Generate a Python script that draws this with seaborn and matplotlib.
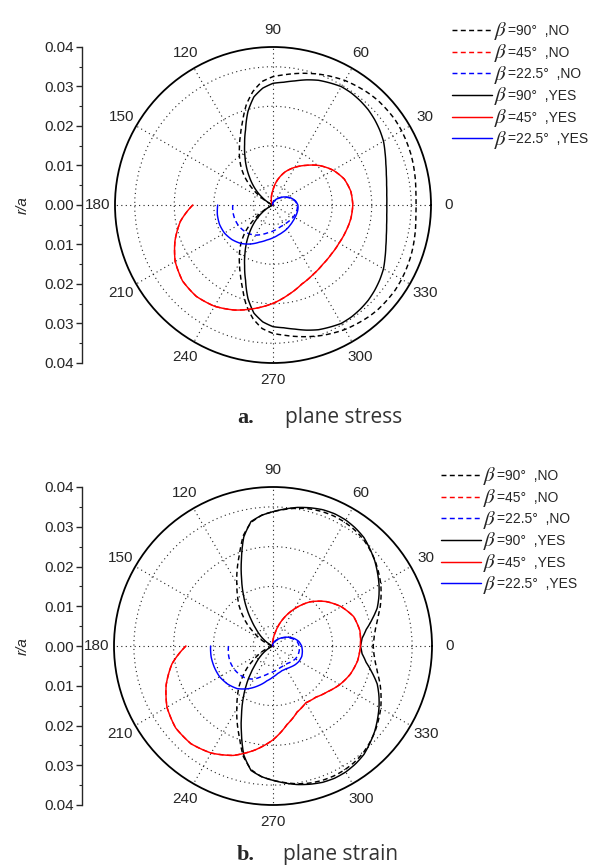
import numpy as np
import matplotlib
matplotlib.use("Agg")
import matplotlib.pyplot as plt
from matplotlib.lines import Line2D
from matplotlib.ticker import FixedLocator, MultipleLocator
import seaborn as sns

sns.set_style("ticks")
plt.rcParams["font.family"] = ["Liberation Sans", "DejaVu Sans"]
plt.rcParams["mathtext.fontset"] = "stix"

# ---------------- data (angles in degrees, r = r/a) ----------------
BLACK_THETA = [-180, -170, -160, -155, -150, -145, -140, -135, -130, -125, -120, -115,
               -110, -105, -100, -95, -90, -85, -80, -75, -70, -65, -60, -55, -50, -45,
               -40, -35, -30, -25, -20, -15, -10, -5,
               0, 5, 10, 15, 20, 25, 30, 35, 40, 45, 50, 55, 60, 65, 70, 75, 80, 85, 90,
               95, 100, 105, 110, 115, 120, 125, 130, 135, 140, 145, 150, 155, 160, 170, 180]
COLOR_THETA = [-180, -170, -160, -150, -140, -130, -120, -110, -100, -90, -80, -70,
               -60, -50, -40, -30, -20, -10, 0, 10, 20, 30, 40, 50, 60, 70, 80, 90,
               100, 110, 120, 140, 160, 180]

# (a) plane stress
A_B90_NO = [0.0, 0.0001, 0.0003, 0.0010, 0.0025, 0.0048, 0.0075, 0.0102, 0.0126, 0.0148,
            0.0170, 0.0195, 0.0225, 0.0262, 0.0292, 0.0314, 0.0325, 0.0331, 0.0338, 0.0345,
            0.0352, 0.0358, 0.0364, 0.0368, 0.0372, 0.0375, 0.0376, 0.0377, 0.0376, 0.0374,
            0.0372, 0.0369, 0.0366, 0.0363,
            0.0362,
            0.0363, 0.0366, 0.0369, 0.0372, 0.0374, 0.0376, 0.0377, 0.0376, 0.0375, 0.0372,
            0.0368, 0.0364, 0.0358, 0.0352, 0.0345, 0.0338, 0.0331, 0.0325, 0.0314, 0.0292,
            0.0262, 0.0225, 0.0195, 0.0170, 0.0148, 0.0126, 0.0102, 0.0075, 0.0048, 0.0025,
            0.0010, 0.0003, 0.0001, 0.0]
A_B90_YES = [0.0, 0.0001, 0.0003, 0.0008, 0.0018, 0.0033, 0.0052, 0.0072, 0.0093, 0.0117,
             0.0142, 0.0170, 0.0203, 0.0245, 0.0278, 0.0297, 0.0308, 0.0312, 0.0319, 0.0328,
             0.0336, 0.0341, 0.0346, 0.0346, 0.0344, 0.0341, 0.0336, 0.0330, 0.0323, 0.0313,
             0.0304, 0.0297, 0.0292, 0.0289,
             0.0288,
             0.0289, 0.0292, 0.0297, 0.0304, 0.0313, 0.0323, 0.0330, 0.0336, 0.0341, 0.0344,
             0.0346, 0.0346, 0.0341, 0.0336, 0.0328, 0.0319, 0.0312, 0.0308, 0.0297, 0.0278,
             0.0245, 0.0203, 0.0170, 0.0142, 0.0117, 0.0093, 0.0072, 0.0052, 0.0033, 0.0018,
             0.0008, 0.0003, 0.0001, 0.0]
A_B45_NO = [0.0203, 0.0238, 0.0264, 0.0286, 0.0299, 0.0302, 0.0296, 0.0283, 0.0266, 0.0249,
            0.0230, 0.0213, 0.0203, 0.0196, 0.0193, 0.0193, 0.0196, 0.0200, 0.0202, 0.0200,
            0.0192, 0.0176, 0.0155, 0.0131, 0.0110, 0.0089, 0.0064, 0.0038, 0.0022, 0.0012,
            0.0006, 0.0002, 0.0001, 0.0]
A_B45_YES = [0.0203, 0.0238, 0.0264, 0.0286, 0.0299, 0.0302, 0.0296, 0.0283, 0.0266, 0.0249,
             0.0230, 0.0213, 0.0203, 0.0196, 0.0193, 0.0193, 0.0196, 0.0200, 0.0202, 0.0200,
             0.0192, 0.0176, 0.0155, 0.0131, 0.0110, 0.0089, 0.0064, 0.0038, 0.0022, 0.0012,
             0.0006, 0.0002, 0.0001, 0.0]
A_B22_NO = [0.0102, 0.0103, 0.0103, 0.0102, 0.0099, 0.0095, 0.0088, 0.0079, 0.0071, 0.0066,
            0.0061, 0.0058, 0.0057, 0.0057, 0.0058, 0.0060, 0.0061, 0.0062, 0.0062, 0.0057,
            0.0049, 0.0039, 0.0030, 0.0022, 0.0016, 0.0011, 0.0008, 0.0005, 0.0004, 0.0003,
            0.0002, 0.0001, 0.0, 0.0]
A_B22_YES = [0.0140, 0.0143, 0.0144, 0.0142, 0.0136, 0.0127, 0.0114, 0.0100, 0.0090, 0.0083,
             0.0077, 0.0073, 0.0070, 0.0067, 0.0065, 0.0064, 0.0064, 0.0064, 0.0063, 0.0058,
             0.0050, 0.0040, 0.0031, 0.0023, 0.0017, 0.0012, 0.0009, 0.0006, 0.0004, 0.0003,
             0.0002, 0.0001, 0.0, 0.0]

# (b) plane strain
B_B90_NO = [0.0, 0.0002, 0.0012, 0.0024, 0.0040, 0.0058, 0.0084, 0.0107, 0.0133, 0.0156,
            0.0182, 0.0213, 0.0246, 0.0288, 0.0316, 0.0330, 0.0338, 0.0345, 0.0352, 0.0357,
            0.0360, 0.0361, 0.0360, 0.0357, 0.0352, 0.0344, 0.0335, 0.0324, 0.0313, 0.0300,
            0.0287, 0.0273, 0.0262, 0.0255,
            0.0252,
            0.0255, 0.0262, 0.0273, 0.0287, 0.0300, 0.0313, 0.0324, 0.0335, 0.0344, 0.0352,
            0.0357, 0.0360, 0.0361, 0.0360, 0.0357, 0.0352, 0.0345, 0.0338, 0.0330, 0.0316,
            0.0288, 0.0246, 0.0213, 0.0182, 0.0156, 0.0133, 0.0107, 0.0084, 0.0058, 0.0040,
            0.0024, 0.0012, 0.0002, 0.0]
B_B90_YES = [0.0, 0.0001, 0.0003, 0.0008, 0.0016, 0.0028, 0.0043, 0.0060, 0.0084, 0.0115,
             0.0149, 0.0187, 0.0232, 0.0284, 0.0318, 0.0330, 0.0338, 0.0346, 0.0354, 0.0360,
             0.0365, 0.0367, 0.0366, 0.0362, 0.0356, 0.0345, 0.0334, 0.0321, 0.0308, 0.0294,
             0.0279, 0.0258, 0.0238, 0.0225,
             0.0220,
             0.0225, 0.0238, 0.0258, 0.0279, 0.0294, 0.0308, 0.0321, 0.0334, 0.0345, 0.0356,
             0.0362, 0.0366, 0.0367, 0.0365, 0.0360, 0.0354, 0.0346, 0.0338, 0.0330, 0.0318,
             0.0284, 0.0232, 0.0187, 0.0149, 0.0115, 0.0084, 0.0060, 0.0043, 0.0028, 0.0016,
             0.0008, 0.0003, 0.0001, 0.0]
B_B45_NO = [0.0219, 0.0258, 0.0286, 0.0308, 0.0320, 0.0321, 0.0311, 0.0293, 0.0266, 0.0236,
            0.0201, 0.0177, 0.0165, 0.0168, 0.0179, 0.0194, 0.0207, 0.0216, 0.0220, 0.0222,
            0.0216, 0.0198, 0.0174, 0.0145, 0.0108, 0.0071, 0.0036, 0.0013, 0.0006, 0.0003,
            0.0002, 0.0001, 0.0, 0.0]
B_B45_YES = [0.0219, 0.0258, 0.0286, 0.0308, 0.0320, 0.0321, 0.0311, 0.0293, 0.0266, 0.0236,
             0.0201, 0.0177, 0.0165, 0.0168, 0.0179, 0.0194, 0.0207, 0.0216, 0.0220, 0.0222,
             0.0216, 0.0198, 0.0174, 0.0145, 0.0108, 0.0071, 0.0036, 0.0013, 0.0006, 0.0003,
             0.0002, 0.0001, 0.0, 0.0]
B_B22_NO = [0.0112, 0.0114, 0.0115, 0.0114, 0.0111, 0.0106, 0.0096, 0.0081, 0.0071, 0.0065,
            0.0060, 0.0057, 0.0056, 0.0057, 0.0061, 0.0065, 0.0067, 0.0067, 0.0066, 0.0062,
            0.0053, 0.0042, 0.0032, 0.0023, 0.0016, 0.0011, 0.0007, 0.0005, 0.0004, 0.0003,
            0.0002, 0.0001, 0.0, 0.0]
B_B22_YES = [0.0157, 0.0158, 0.0157, 0.0155, 0.0149, 0.0140, 0.0124, 0.0106, 0.0089, 0.0078,
             0.0070, 0.0066, 0.0066, 0.0069, 0.0073, 0.0076, 0.0077, 0.0075, 0.0072, 0.0066,
             0.0056, 0.0044, 0.0033, 0.0024, 0.0017, 0.0012, 0.0008, 0.0005, 0.0004, 0.0003,
             0.0002, 0.0001, 0.0, 0.0]

SERIES_LABELS = ["=90°  ,NO", "=45°  ,NO", "=22.5°  ,NO",
                 "=90°  ,YES", "=45°  ,YES", "=22.5°  ,YES"]
ANGLE_TICKS = [0, 30, 60, 90, 120, 150, 180, 210, 240, 270, 300, 330]
ANGLE_LABELS = ["0", "30", "60", "90", "120", "150", "180", "210", "240", "270", "300", "330"]
MINOR_ANGLES = [15, 45, 75, 105, 135, 165, 195, 225, 255, 285, 315, 345]
RING_LEVELS = [0.005, 0.015, 0.025, 0.035]
R_MAX = 0.04
LEFT_TICKS = [-0.04, -0.03, -0.02, -0.01, 0.0, 0.01, 0.02, 0.03, 0.04]
LEFT_LABELS = ["0.04", "0.03", "0.02", "0.01", "0.00", "0.01", "0.02", "0.03", "0.04"]
PANEL_TAGS = ["a.", "b."]
PANEL_TITLES = ["plane stress", "plane strain"]

# ---------------- layout ----------------
W, H = 590, 865
fig = plt.figure(figsize=(W / 100, H / 100), dpi=100)

COLORS = ["black", "#ff0000", "#0000ff"]
DASH = (0, (3.4, 2.3))
LW = 1.05

panels = [
    dict(center=(273, 205), rad=158, data=[A_B90_NO, A_B45_NO, A_B22_NO, A_B90_YES, A_B45_YES, A_B22_YES],
         legend_xy=(452, 24), tag_x=237, title_x=285, base_y=423),
    dict(center=(273, 646), rad=159, data=[B_B90_NO, B_B45_NO, B_B22_NO, B_B90_YES, B_B45_YES, B_B22_YES],
         legend_xy=(441, 469), tag_x=237, title_x=283, base_y=860),
]

legends = []
for k, p in enumerate(panels):
    cx, cy = p["center"]
    rad = p["rad"]
    box = [(cx - rad) / W, 1 - (cy + rad) / H, 2 * rad / W, 2 * rad / H]
    ax = fig.add_axes(box, projection="polar")

    thetas = [BLACK_THETA, COLOR_THETA, COLOR_THETA, BLACK_THETA, COLOR_THETA, COLOR_THETA]
    styles = [DASH, DASH, DASH, "-", "-", "-"]
    for i, (th, rr) in enumerate(zip(thetas, p["data"])):
        sns.lineplot(x=np.deg2rad(th), y=np.array(rr), ax=ax, sort=False, estimator=None,
                     color=COLORS[i % 3], linestyle=styles[i], lw=LW, legend=False)
        ln = ax.lines[-1]
        ln.recache(always=True)
        ln._path._interpolation_steps = 12   # draw segments along polar arcs

    ax.set_ylim(0, R_MAX)
    ax.set_xticks(np.deg2rad(ANGLE_TICKS))
    ax.set_xticklabels(ANGLE_LABELS, fontsize=11)
    ax.xaxis.set_minor_locator(FixedLocator(np.deg2rad(MINOR_ANGLES)))
    ax.set_yticks(RING_LEVELS)
    ax.set_yticklabels([])
    ax.set_xlabel("")
    ax.set_ylabel("")
    ax.grid(True, which="major", linestyle=(0, (1, 3)), color="#222222", lw=0.8)
    ax.tick_params(axis="x", which="major", direction="in", length=4, width=1, pad=5.5)
    ax.tick_params(axis="x", which="minor", direction="in", length=2.5, width=0.8)
    ax.tick_params(axis="y", length=0)
    ax.spines["polar"].set_linewidth(1.3)
    ax.spines["polar"].set_color("black")

    # left linear r/a scale
    axl = fig.add_axes([82 / W, box[1], 0.0005, box[3]])
    axl.set_ylim(-R_MAX, R_MAX)
    for s in ["top", "right", "bottom"]:
        axl.spines[s].set_visible(False)
    axl.spines["left"].set_linewidth(1.0)
    axl.set_xticks([])
    axl.set_yticks(LEFT_TICKS)
    axl.set_yticklabels(LEFT_LABELS)
    axl.yaxis.set_minor_locator(MultipleLocator(0.005))
    axl.tick_params(axis="y", which="major", length=4, width=1, labelsize=11, pad=2)
    axl.tick_params(axis="y", which="minor", length=2.2, width=0.8)
    axl.set_ylabel("r/a", style="italic", fontsize=11, labelpad=10)
    axl.patch.set_visible(False)

    # legend (beta symbols added after layout, larger like the original)
    handles = [Line2D([], [], color=COLORS[i % 3], linestyle=styles[i], lw=LW) for i in range(6)]
    lx, ly = p["legend_xy"]
    leg = fig.legend(handles, SERIES_LABELS, loc="upper left", bbox_to_anchor=(lx / W, 1 - ly / H),
                     frameon=False, fontsize=10, handlelength=2.85, handletextpad=1.15,
                     labelspacing=0.55, borderpad=0, borderaxespad=0)
    legends.append(leg)

    # panel caption
    fig.text(p["tag_x"] / W, 1 - p["base_y"] / H, PANEL_TAGS[k], ha="left", va="baseline",
             fontsize=16, fontweight="bold", family=["Liberation Serif", "DejaVu Serif"])
    fig.text(p["title_x"] / W, 1 - p["base_y"] / H, PANEL_TITLES[k], ha="left", va="baseline",
             fontsize=15, family=["Open Sans", "DejaVu Sans"], color="#333333")

fig.canvas.draw()
renderer = fig.canvas.get_renderer()
for leg in legends:
    for t in leg.get_texts():
        bb = t.get_window_extent(renderer)
        fig.text((bb.x0 + 0.5) / W, (bb.y0 + bb.y1) / 2 / H - 0.0005, r"$\beta$",
                 ha="right", va="center", fontsize=15)

fig.savefig("out.png", dpi=100)
